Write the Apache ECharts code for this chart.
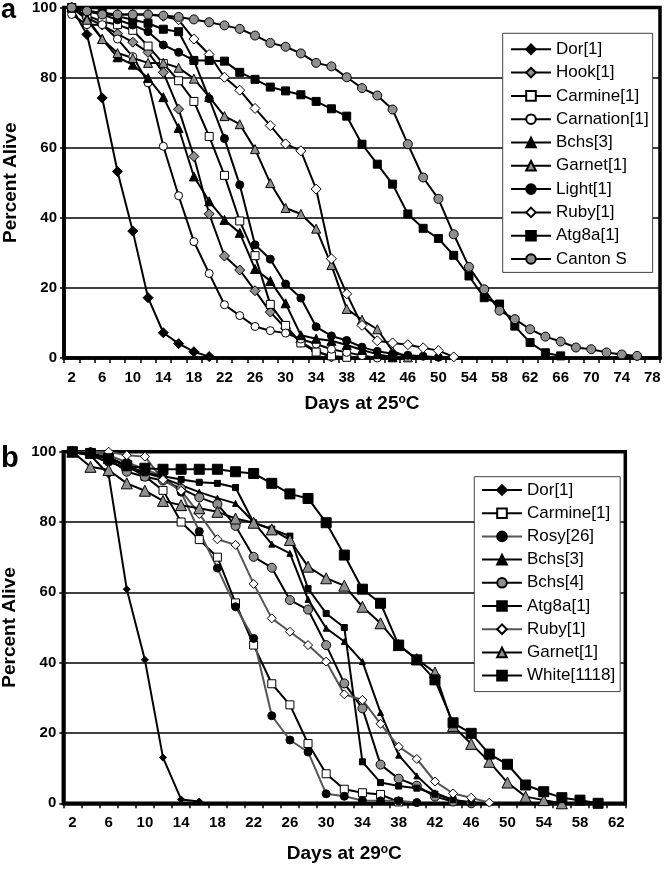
<!DOCTYPE html>
<html><head><meta charset="utf-8">
<script src="https://cdn.jsdelivr.net/npm/echarts@6/dist/echarts.min.js"></script>
<style>html,body{margin:0;padding:0;background:#fff}#c{width:664px;height:869px}</style>
</head><body><div id="c"></div>
<script>
// ---------- Panel a (25 °C) ----------
const daysA = [2,4,6,8,10,12,14,16,18,20,22,24,26,28,30,32,34,36,38,40,42,44,46,48,50,52,54,56,58,60,62,64,66,68,70,72,74,76,78];
const aDor       = [100,92.3,74.2,53.2,36.2,17.2,7.2,4.1,1.8,0.4];
const aHook      = [100,97,95,92.5,90.1,87.2,81.5,71,57.5,41.1,29.1,25.1,19.2,13.1,8.5,4.5,2,0.3];
const aCarmine   = [100,97.7,96,95.1,93.5,89,84,79.1,73.2,63.2,52.1,39.1,29.2,15.3,9.3,4.3,1.7,0.6,0.2];
const aCarnation = [98,95.1,95.1,91,86,78.5,60.4,46.3,33.2,24.1,15.2,12.1,9,7.8,7.1,5.4,4,2.5,1.6,0.7,0];
const aBchs3     = [100,97,91,85.8,83.7,79.9,74.4,65.6,51.8,44.7,39.4,35.7,25.4,22,15.6,6.5,5.5,4.9,3.7,2.3,1.1,0.2];
const aGarnet    = [100,96.5,91,87,85.6,84.2,84.2,82.8,79.7,74.5,69,66.7,59.6,49.9,42.8,41.1,36.9,26.5,14,10.9,8.2,2,0.2];
const aLight     = [100,99,98,96.5,95,93.1,89.3,87.2,84.9,74,62.6,49.4,32.3,28.2,21.1,17.1,8.9,6.3,5,3.1,1.9,1.2,0.8,0.5,0.2];
const aRuby      = [100,99,98.5,98,98,98,97.5,96.5,91,86.6,80.1,76.4,71.2,66.3,61.1,59.1,48.2,28.3,18.3,9.3,4.9,4.3,3.8,2.9,2.1,0.3];
const aAtg8a     = [100,99,98.5,97.5,96.5,95.5,93.8,93.1,84.9,84.9,84.7,81.5,79.5,77.3,76.2,75.1,73.2,71.1,69,61,55.3,49.6,41.1,37,34.1,29.3,23.4,17.2,15.4,9.1,4.4,1.5,0.6];
const aCanton    = [100,99,98,98,98,98,97.7,97.3,96.6,95.8,94.9,93.9,92,89.9,88.8,86.9,84.2,83.2,80.1,77,74.9,70.9,61,51.5,45.4,35.3,26,19.6,13.5,11.1,8.2,6.1,4.7,3,2.5,1.6,1.0,0.6];

// ---------- Panel b (29 °C) ----------
const daysB = [2,4,6,8,10,12,14,16,18,20,22,24,26,28,30,32,34,36,38,40,42,44,46,48,50,52,54,56,58,60,62];
const bDor     = [100,99,93.5,60.9,40.8,13,1.1,0.5];
const bCarmine = [100,99.5,98.5,96,93,89,80,75,70,57,45,34,28,17,8.4,4,3,2.5,0.4];
const bRosy    = [100,100,99,97,95,93,88.5,77.3,66.9,55.9,46.9,24.9,18,14.6,2.7,2,0.8,0.7,0.7,0.2];
const bBchs3   = [100,99,98,96,94,92.5,90.5,88.5,86.8,85.3,80,73.7,71.1,58,49.8,46,40.3,25.8,13.7,7.8,3,0.9,0.2];
const bBchs4   = [100,99.5,98,94.3,92.9,91.8,89.5,87,85.1,78.9,70.1,67,57.8,55.1,45,34.1,27,11,7,5,1.9,0.5,0];
const bAtg8a   = [100,99,97,95.5,94,93,92.1,91.3,91,89.8,79.8,78,76,61.1,54,50,11.8,5.9,4.9,4.3,2.6,1,0.2];
const bRuby    = [100,100,100,99,98.6,92,88.9,82.3,75.1,73.5,62.4,52.6,48.8,45,40.3,31,29.4,22.6,16.1,12.6,6.2,2.8,1.6,0.2];
const bGarnet  = [100,95.7,94.8,91,88.9,86,84.8,83.9,82.9,81,79.8,77.9,74.9,67.3,64,61.9,55.9,51.2,45,41,37.2,22,16.9,11.8,5.9,1.9,0.9,0];
const bWhite   = [100,99.5,98,96,95.3,95,95,95,95,94.3,93.8,91,88,86.7,79.8,70.6,60.9,56.9,45,40.8,35.1,22.9,19.9,14,11.1,5.2,3.3,1.6,0.9,0];

const yTicks = [0,20,40,60,80,100];

const FONT = '"Liberation Sans", Arial, Helvetica, sans-serif';
const GRAY = '#8f8f8f';
const ZW = '\u200b';

function ser(name, data, panel, symbol, size, fill, lineColor) {
  return {
    type: 'line', name: name, data: data,
    xAxisIndex: panel, yAxisIndex: panel,
    symbol: symbol, symbolSize: size, showSymbol: true, showAllSymbol: true,
    itemStyle: { color: fill, borderColor: '#000', borderWidth: 1 },
    lineStyle: { color: lineColor || '#000', width: 2 },
    emphasis: { disabled: true },
    animation: false
  };
}

const seriesA = [
  ser('Dor[1]', aDor, 0, 'diamond', 10, '#000'),
  ser('Hook[1]', aHook, 0, 'diamond', 10, GRAY),
  ser('Carmine[1]', aCarmine, 0, 'rect', 8, '#fff'),
  ser('Carnation[1]', aCarnation, 0, 'circle', 8, '#fff'),
  ser('Bchs[3]', aBchs3, 0, 'triangle', 9, '#000'),
  ser('Garnet[1]', aGarnet, 0, 'triangle', 9, GRAY),
  ser('Light[1]', aLight, 0, 'circle', 8, '#000'),
  ser('Ruby[1]', aRuby, 0, 'diamond', 10, '#fff'),
  ser('Atg8a[1]', aAtg8a, 0, 'rect', 8, '#000'),
  ser('Canton S', aCanton, 0, 'circle', 9, GRAY)
];
const seriesB = [
  ser('Dor[1]' + ZW, bDor, 1, 'diamond', 7, '#000'),
  ser('Carmine[1]' + ZW, bCarmine, 1, 'rect', 8, '#fff'),
  ser('Rosy[26]', bRosy, 1, 'circle', 8, '#000', '#555'),
  ser('Bchs[3]' + ZW, bBchs3, 1, 'triangle', 6, '#000'),
  ser('Bchs[4]', bBchs4, 1, 'circle', 9, GRAY),
  ser('Atg8a[1]' + ZW, bAtg8a, 1, 'rect', 6, '#000'),
  ser('Ruby[1]' + ZW, bRuby, 1, 'diamond', 9, '#fff', '#555'),
  ser('Garnet[1]' + ZW, bGarnet, 1, 'triangle', 11, GRAY),
  ser('White[1118]', bWhite, 1, 'rect', 10, '#000')
];

function xAx(idx, days, title, gap) {
  return {
    type: 'category', gridIndex: idx, data: days, boundaryGap: true,
    axisLine: { show: true, lineStyle: { color: '#000', width: 3.5 } },
    axisTick: { show: true, interval: 0, length: 5, lineStyle: { color: '#000', width: 1.5 } },
    axisLabel: { interval: 1, margin: 12, fontSize: 15, fontWeight: 'bold', color: '#000', fontFamily: FONT },
    splitLine: { show: false },
    name: title, nameLocation: 'middle', nameGap: gap,
    nameTextStyle: {
      fontSize: 19, fontWeight: 'bold', color: '#000', fontFamily: FONT,
      rich: { s: { fontSize: 12, fontWeight: 'bold', color: '#000', fontFamily: FONT, verticalAlign: 'top', padding: [0, 0, 8, 0] } }
    }
  };
}
function yAx(idx) {
  return {
    type: 'value', gridIndex: idx, min: yTicks[0], max: yTicks[yTicks.length - 1], interval: 20,
    axisLine: { show: true, lineStyle: { color: '#000', width: 3.5 } },
    axisTick: { show: true, length: 4, lineStyle: { color: '#000', width: 1.5 } },
    splitLine: { show: true, lineStyle: { color: '#000', width: 1.5 } },
    axisLabel: { margin: 7, fontSize: 15, fontWeight: 'bold', color: '#000', fontFamily: FONT },
    name: 'Percent Alive', nameLocation: 'middle', nameGap: 44, nameRotate: 90,
    nameTextStyle: { fontSize: 19, fontWeight: 'bold', color: '#000', fontFamily: FONT }
  };
}
function leg(series, left, top, pad, gap) {
  return {
    data: series.map(s => s.name), orient: 'vertical', left: left, top: top,
    itemWidth: 40, itemHeight: 12, itemGap: gap, padding: pad,
    borderColor: '#444', borderWidth: 1, backgroundColor: '#fff',
    selectedMode: false,
    textStyle: { fontSize: 17, color: '#000', fontFamily: FONT }
  };
}

const chart = echarts.init(document.getElementById('c'), null, { renderer: 'canvas' });
chart.setOption({
  animation: false,
  backgroundColor: '#fff',
  textStyle: { fontFamily: FONT },
  title: [
    { text: 'a', left: 1, top: -3, padding: 0, textStyle: { fontSize: 27, fontWeight: 'bold', color: '#000', fontFamily: FONT } },
    { text: 'b', left: 1, top: 444, padding: 0, textStyle: { fontSize: 29, fontWeight: 'bold', color: '#000', fontFamily: FONT } }
  ],
  grid: [
    { left: 64, top: 7.5, width: 596, height: 350.5, show: true, borderColor: '#000', borderWidth: 3.5, backgroundColor: 'transparent', containLabel: false, outerBoundsMode: 'none' },
    { left: 63.3, top: 451.7, width: 562, height: 351.6, show: true, borderColor: '#000', borderWidth: 3.5, backgroundColor: 'transparent', containLabel: false, outerBoundsMode: 'none' }
  ],
  xAxis: [ xAx(0, daysA, 'Days at 25{s|o}C', 36), xAx(1, daysB, 'Days at 29{s|o}C', 40) ],
  yAxis: [ yAx(0), yAx(1) ],
  legend: [
    leg(seriesA, 502.7, 33.3, [7.5, 4, 4.9, 7.3], 6.3),
    leg(seriesB, 474.3, 476.7, [4.8, 5, 7.5, 6.7], 6.2)
  ],
  series: seriesA.concat(seriesB)
});
</script>
</body></html>
